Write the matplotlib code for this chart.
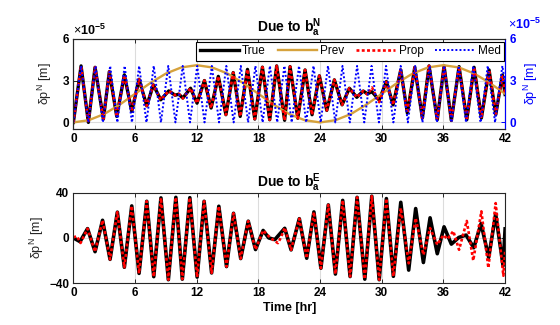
import matplotlib
matplotlib.use('Agg')
import matplotlib.pyplot as plt

plt.rcParams['font.family'] = ['Liberation Sans', 'DejaVu Sans']
plt.rcParams['mathtext.fontset'] = 'custom'
plt.rcParams['mathtext.rm'] = 'Liberation Sans'
plt.rcParams['mathtext.bf'] = 'Liberation Sans:bold'
plt.rcParams['mathtext.it'] = 'Liberation Sans:italic'

# position error due to north accel bias (units of 1e-5 m), peaks/troughs in hr
true_n_t = [0, 0.75, 1.46, 2.11, 2.92, 3.5, 4.22, 4.96, 5.68, 6.39, 7.14, 7.78, 8.5,
            9.28, 9.9, 10.25, 10.65, 11.4, 12.03, 12.75, 13.4, 14.1, 14.84, 15.55,
            16.23, 16.94, 17.65, 18.39, 19.1, 19.78, 20.55, 21.08, 21.83, 22.54,
            23.22, 23.93, 24.65, 25.39, 26.14, 26.85, 27.57, 28.2, 28.6, 29.05,
            29.75, 30.45, 31.1, 31.85, 32.49, 33.21, 33.95, 34.6, 35.4, 36.06,
            36.77, 37.52, 38.27, 38.98, 39.69, 40.44, 41.09, 41.73, 42.0]
true_n_v = [0.0, 4.05, 0.0, 3.95, 0.24, 3.64, 0.43, 3.41, 0.79, 3.09, 1.19, 2.69, 1.62,
            2.26, 1.95, 2.02, 1.75, 2.45, 1.38, 3.0, 1.03, 3.3, 0.55, 3.57,
            0.43, 3.8, 0.24, 3.96, 0.19, 4.05, 0.15, 4.0, 0.3, 3.76,
            0.55, 3.34, 0.86, 3.05, 1.26, 2.45, 1.8, 2.25, 2.05, 2.2,
            1.6, 2.93, 1.26, 3.76, 0.67, 3.95, 0.31, 4.05, 0.19, 4.05,
            0.14, 4.0, 0.19, 3.95, 0.31, 3.76, 0.55, 3.4, 2.0]

prop_n_t = true_n_t
prop_n_v = [0.0, 4.05, 0.0, 3.95, 0.24, 3.64, 0.43, 3.41, 0.79, 3.09, 1.19, 2.69, 1.62,
            2.26, 1.95, 2.05, 1.72, 2.45, 1.38, 3.0, 1.03, 3.3, 0.55, 3.57,
            0.43, 3.8, 0.24, 3.96, 0.19, 4.05, 0.15, 4.0, 0.3, 3.76,
            0.55, 3.34, 0.86, 3.05, 1.26, 2.45, 1.8, 2.25, 2.0, 2.5,
            1.45, 2.9, 1.26, 3.76, 0.67, 3.95, 0.31, 4.05, 0.19, 4.05,
            0.14, 4.0, 0.19, 3.95, 0.31, 3.76, 0.6, 3.3, 2.1]

prev_t = [0, 1.5, 3, 4.5, 6, 7.5, 9, 10.5, 12, 13.5, 15, 16.5, 18, 19.5, 21,
          22.5, 24, 25.5, 27, 28.5, 30, 31.5, 33, 34.5, 36, 37.5, 39, 40.5, 42]
prev_v = [0.0, 0.16, 0.6, 1.27, 2.05, 2.83, 3.5, 3.94, 4.1, 3.94, 3.5, 2.83, 2.05,
          1.27, 0.6, 0.16, 0.0, 0.16, 0.6, 1.27, 2.05, 2.83, 3.5, 3.94, 4.1,
          3.94, 3.5, 2.83, 2.05]

med_t = [0, 0.75, 1.46, 2.16, 2.87, 3.58, 4.28, 4.99, 5.7, 6.4, 7.11, 7.82, 8.52,
         9.23, 9.93, 10.64, 11.35, 12.05, 12.76, 13.47, 14.17, 14.88, 15.59,
         16.29, 17.0, 17.71, 18.41, 19.12, 19.83, 20.53, 21.24, 21.95, 22.65,
         23.36, 24.06, 24.77, 25.48, 26.18, 26.89, 27.6, 28.3, 29.01, 29.72,
         30.42, 31.13, 31.84, 32.54, 33.25, 33.96, 34.66, 35.37, 36.08, 36.78,
         37.49, 38.2, 38.9, 39.61, 40.31, 41.02, 41.73, 42.0]
med_v = [0.0, 4.05, 0.0, 4.05, 0.0, 4.05, 0.0, 4.05, 0.0, 4.05, 0.0, 4.05, 0.0,
         4.05, 0.0, 4.05, 0.0, 4.05, 0.0, 4.05, 0.0, 4.05, 0.0,
         4.05, 0.0, 4.05, 0.0, 4.05, 0.0, 4.05, 0.0, 4.05, 0.0,
         4.05, 0.0, 4.05, 0.0, 4.05, 0.0, 4.05, 0.0, 4.05, 0.0,
         4.05, 0.0, 4.05, 0.0, 4.05, 0.0, 4.05, 0.0, 4.05, 0.0,
         4.05, 0.0, 4.05, 0.0, 4.05, 0.0, 4.05, 2.8]

# position error due to east accel bias (m)
true_e_t = [0, 0.65, 1.38, 2.11, 2.84, 3.57, 4.28, 4.96, 5.68, 6.39, 7.14, 7.82, 8.52,
            9.24, 9.97, 10.6, 11.33, 12.04, 12.72, 13.45, 14.15, 14.9, 15.58, 16.28,
            17.01, 17.72, 18.46, 19.0, 19.6, 20.56, 21.18, 21.98, 22.7, 23.4, 24.08,
            24.8, 25.49, 26.2, 26.92, 27.6, 28.35, 29.03, 29.75, 30.45, 31.13, 31.85,
            32.62, 33.3, 34.05, 34.7, 35.4, 36.06, 36.77, 37.5, 38.2, 38.95, 39.66,
            40.4, 41.08, 41.8, 42.0]
true_e_v = [0, -3.3, 8.2, -12.2, 15.6, -19.0, 22.8, -26.0, 28.3, -31.4, 32.4, -34.3, 35.4,
            -37.0, 35.9, -36.5, 35.6, -34.7, 32.4, -31.0, 28.0, -25.4, 21.8, -18.3,
            14.8, -10.3, 6.6, 0.0, -1.5, 8.5, -10.6, 17.0, -18.0, 23.0, -26.8,
            29.2, -32.0, 33.2, -34.2, 35.9, -36.5, 36.9, -37.0, 34.8, -34.0, 31.5,
            -28.5, 26.0, -21.8, 17.8, -14.0, 9.8, -5.5, 0.4, 2.5, -8.7, 12.7,
            -17.3, 21.1, -24.7, 8.0]

prop_e_t = [0, 0.35, 0.7, 1.38, 2.11, 2.84, 3.57, 4.28, 4.96, 5.68, 6.39, 7.14, 7.82, 8.52,
            9.24, 9.97, 10.6, 11.33, 12.04, 12.72, 13.45, 14.15, 14.9, 15.58, 16.28,
            17.01, 17.72, 18.46, 19.0, 19.4, 19.9, 20.2, 20.56, 21.18, 21.98, 22.7,
            23.4, 24.08, 24.8, 25.49, 26.2, 26.92, 27.6, 28.35, 29.03, 29.75, 30.45,
            31.13, 31.85, 32.62, 33.3, 34.05, 34.7, 35.4, 36.0, 36.4, 36.96, 37.52,
            38.27, 38.9, 39.69, 40.37, 41.08, 41.83, 42.0]
prop_e_v = [0.5, 1.5, -4.5, 8.2, -12.2, 15.6, -19.0, 22.8, -26.0, 28.3, -31.4, 32.4, -34.3,
            35.4, -37.0, 35.9, -36.5, 35.6, -34.7, 32.4, -31.0, 28.0, -25.4, 21.8,
            -18.3, 14.8, -10.3, 6.6, 1.5, -1.5, -4.6, 0.5, 9.0, -10.6, 17.0, -18.0,
            23.0, -26.8, 29.2, -32.0, 33.2, -34.2, 35.9, -36.5, 36.9, -37.0, 34.8,
            -34.0, 26.4, -22.5, 17.5, -15.0, 8.7, -6.0, 2.5, -1.0, 6.0, -10.5,
            15.0, -20.0, 23.5, -26.5, 30.8, -33.5, -12.0]

x_ticks = [0, 6, 12, 18, 24, 30, 36, 42]
gold = '#D6A23C'
txt = '#262626'
red_dots = (0, (1.1, 0.9))
blue_dots = (0, (1, 1.1))


def style_axes(ax, yticks):
    ax.set_xlim(0, 42)
    ax.set_xticks(x_ticks)
    ax.set_yticks(yticks)
    ax.grid(True, color='#DCDCDC', lw=0.8)
    ax.set_axisbelow(True)
    ax.tick_params(direction='in', length=3, width=0.7, colors=txt, pad=3,
                   labelcolor='black')
    for lbl in ax.get_xticklabels() + ax.get_yticklabels():
        lbl.set_fontsize(8.5)
        lbl.set_fontweight('bold')
    for s in ax.spines.values():
        s.set_color(txt)
        s.set_linewidth(0.8)


fig = plt.figure(figsize=(5.6, 3.25), dpi=100)
ax1 = fig.add_axes([0.131, 0.604, 0.771, 0.277])
ax2 = fig.add_axes([0.131, 0.129, 0.771, 0.278])

# --- top: north bias ---
h1, = ax1.plot(true_n_t, true_n_v, color='black', lw=2.4, solid_joinstyle='round',
               label='True')
h2, = ax1.plot(prev_t, prev_v, color=gold, lw=1.7, label='Prev')
h3, = ax1.plot(prop_n_t, prop_n_v, color='red', lw=1.9, ls=red_dots, label='Prop')
ax1.set_ylim(-0.45, 6)
style_axes(ax1, [0, 3, 6])
ax1.tick_params(top=True, right=False)
ax1.set_ylabel('δp$^{\\mathrm{N}}$ [m]', fontsize=9, color=txt, labelpad=6)
ax1.set_title('Due to $\\mathbf{b_a^N}$', fontsize=10, fontweight='bold', pad=4)
ax1.text(0.0, 1.005, '×$\\mathbf{10^{-5}}$', transform=ax1.transAxes,
         fontsize=9, ha='left', va='bottom', color='black')

ax1r = ax1.twinx()
h4, = ax1r.plot(med_t, med_v, color='blue', lw=1.4, ls=blue_dots, label='Med')
ax1r.set_ylim(-0.45, 6)
ax1r.set_yticks([0, 3, 6])
ax1r.tick_params(direction='in', length=3, width=0.7, colors='blue', pad=3)
for lbl in ax1r.get_yticklabels():
    lbl.set_fontsize(8.5)
    lbl.set_fontweight('bold')
for name, s in ax1r.spines.items():
    s.set_color('blue' if name == 'right' else txt)
    s.set_linewidth(0.8)
ax1r.set_ylabel('δp$^{\\mathrm{N}}$ [m]', fontsize=9, color='blue', rotation=90,
                labelpad=4)
ax1r.text(1.007, 1.07, '×$\\mathbf{10^{-5}}$', transform=ax1.transAxes,
          fontsize=9, ha='left', va='bottom', color='blue')

leg = ax1r.legend([h1, h2, h3, h4], ['True', 'Prev', 'Prop', 'Med'], ncol=4,
                  loc='upper right', bbox_to_anchor=(0.998, 0.967), borderaxespad=0,
                  fontsize=8.5, handlelength=3.3, columnspacing=1.0, handletextpad=0.3,
                  fancybox=False, framealpha=1, edgecolor='black', borderpad=0.3)
leg.get_frame().set_linewidth(0.8)

# --- bottom: east bias ---
ax2.plot(true_e_t, true_e_v, color='black', lw=2.6, solid_joinstyle='round')
ax2.plot(prop_e_t, prop_e_v, color='red', lw=1.9, ls=red_dots)
ax2.set_ylim(-40, 40)
style_axes(ax2, [-40, 0, 40])
ax2.tick_params(top=True, right=True)
ax2.set_ylabel('δp$^{\\mathrm{N}}$ [m]', fontsize=9, color=txt, labelpad=2)
ax2.set_xlabel('Time [hr]', fontsize=9, fontweight='bold', labelpad=2)
ax2.set_title('Due to $\\mathbf{b_a^E}$', fontsize=10, fontweight='bold', pad=4)

fig.savefig('out.png', dpi=100)
